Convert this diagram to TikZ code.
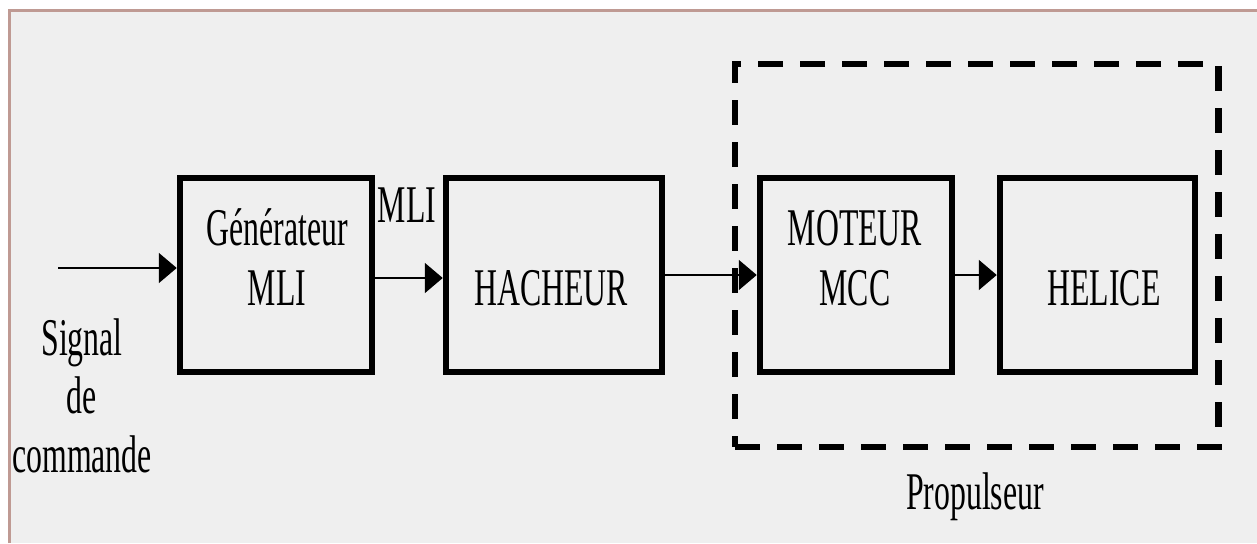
\documentclass[tikz,border=0pt]{standalone}
\usepackage{fontspec}
\newfontfamily\labfont[FakeStretch=0.6]{Liberation Serif}
\usetikzlibrary{arrows.meta}
\definecolor{bggray}{HTML}{EFEFEF}
\definecolor{framec}{HTML}{BF9A93}
\tikzset{
  blockbox/.style={draw=black, line width=6.5pt, minimum height=194pt, inner sep=0pt},
  dashbox/.style={draw=black, line width=6.5pt, dash pattern=on 25pt off 17pt, inner sep=0pt},
  lbl/.style={font=\labfont\fontsize{53}{60}\selectfont, inner sep=0pt, anchor=base},
  conn/.style={line width=2pt, -{Triangle[length=18pt,width=30pt]}}
}
\begin{document}
\begin{tikzpicture}[x=1pt,y=-1pt]
\useasboundingbox (0,0) rectangle (1257,543);
\fill[white] (0,0) rectangle (1257,543);
\fill[bggray] (8,9) rectangle (1257,543);
\draw[framec, line width=3pt] (9.5,543) -- (9.5,10.5) -- (1257,10.5);

% dashed propulseur frame
\node[dashbox, minimum width=483.5pt, minimum height=383pt] (prop) at (976.75,255.5) {};

% blocks
\node[blockbox, minimum width=192pt] (gen) at (276,275) {};
\node[blockbox, minimum width=216pt] (hach) at (554,275) {};
\node[blockbox, minimum width=192pt] (mot) at (856,275) {};
\node[blockbox, minimum width=195pt] (hel) at (1097.5,275) {};

% texts
\node[lbl] (gen1) at (277,245) {Générateur};
\node[lbl] (gen2) at (277,305) {MLI};
\node[lbl] (hachT) at (551,305) {HACHEUR};
\node[lbl] (mot1) at (855,245) {MOTEUR};
\node[lbl] (mot2) at (855,305) {MCC};
\node[lbl] (helT) at (1104,305) {HELICE};
\node[lbl] (mliT) at (407,222) {MLI};
\node[lbl] (sig1) at (82,355) {Signal};
\node[lbl] (sig2) at (82,413) {de};
\node[lbl] (sig3) at (82,472) {commande};
\node[lbl] (propT) at (975,509) {Propulseur};

% connectors
\coordinate (in) at (58,268);
\coordinate (a2) at (0,278);
\draw[conn] (in) -- (gen.west |- in);
\draw[conn] (gen.east |- a2) -- (hach.west |- a2);
\draw[conn] (hach.east) -- (mot.west);
\draw[conn] (mot.east) -- (hel.west);
\end{tikzpicture}
\end{document}
